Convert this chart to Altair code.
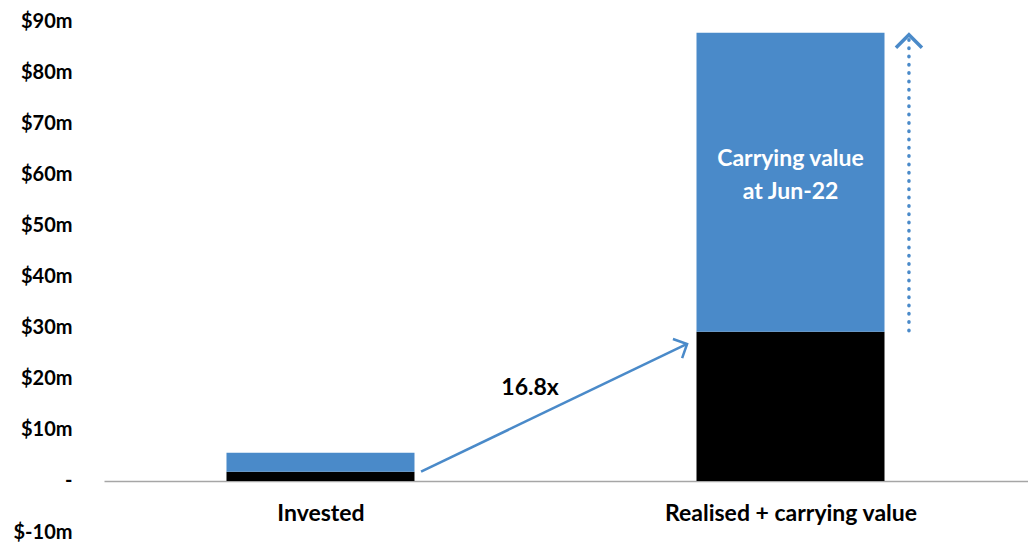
import altair as alt
import pandas as pd

# ---- data ----
categories = ["Invested", "Realised + carrying value"]
cat_pos = [0, 1]
black_top = [1.8, 29.2]      # lower (black) segment, $m
blue_top = [5.5, 87.7]       # total height incl. blue segment, $m

arrow_x = [0.214, 0.780]     # growth arrow, x in category units
arrow_y = [1.8, 26.8]        # $m
multiple_label = "16.8x"
multiple_x = [0.446]
multiple_y = [18.2]

dotted_x = [1.252, 1.252]
dotted_y = [29.4, 87.3]

note_lines = ["Carrying value", "at Jun-22"]
note_x = [1.0, 1.0]
note_y = [63.0, 56.6]

BLUE = "#4A8AC9"
FONT = "Lato"

bars = pd.DataFrame({
    "category": categories * 2,
    "pos": cat_pos * 2,
    "y0": [0.0, 0.0] + black_top,
    "y1": black_top + blue_top,
    "segment": ["realised", "realised", "carrying", "carrying"],
})
arrow_df = pd.DataFrame({"x": arrow_x, "y": arrow_y, "o": [0, 1]})
arrow_head = arrow_df.iloc[[1]]
dotted_df = pd.DataFrame({"x": dotted_x, "y": dotted_y, "o": [0, 1]})
dotted_head = dotted_df.iloc[[1]]
mult_df = pd.DataFrame({"x": multiple_x, "y": multiple_y, "t": [multiple_label]})
note_df = pd.DataFrame({"x": note_x, "y": note_y, "t": note_lines})

label_expr = " : ".join(
    [f"datum.value == {p} ? '{c}'" for p, c in zip(cat_pos, categories)] + ["''"]
)

xscale = alt.Scale(domain=[-0.4606, 1.5053], nice=False, zero=False, padding=0)
yscale = alt.Scale(domain=[-10, 90], nice=False, zero=False, padding=0)

x_axis = alt.Axis(
    values=cat_pos, labelExpr=label_expr, title=None, grid=False, ticks=False,
    domain=True, domainColor="#A6A6A6", domainWidth=1.5, offset=-51,
    labelFont=FONT, labelFontSize=23, labelFontWeight="bold", labelColor="#000000",
    labelPadding=21, labelFlush=False, labelLimit=0, labelOverlap=False,
)
y_axis = alt.Axis(
    values=list(range(-10, 100, 10)),
    labelExpr="datum.value == 0 ? '-' : '$' + datum.value + 'm'",
    title=None, grid=False, ticks=False, domain=False,
    labelFont=FONT, labelFontSize=20, labelFontWeight="bold", labelColor="#000000",
    labelPadding=32, labelOverlap=False,
)

bar_layer = alt.Chart(bars).mark_bar(size=188).encode(
    x=alt.X("pos:Q", scale=xscale, axis=x_axis),
    y=alt.Y("y0:Q", scale=yscale, axis=y_axis),
    y2="y1:Q",
    color=alt.Color("segment:N",
                    scale=alt.Scale(domain=["realised", "carrying"], range=["#000000", BLUE]),
                    legend=None),
)

arrow_line = alt.Chart(arrow_df).mark_line(color=BLUE, strokeWidth=2.5).encode(
    x=alt.X("x:Q", scale=xscale), y=alt.Y("y:Q", scale=yscale), order="o:Q"
)
arrow_tip = alt.Chart(arrow_head).mark_point(
    shape="M-1,1L0,0L1,1", filled=False, color=BLUE, strokeWidth=2.5,
    size=450, angle=64.3, opacity=1,
).encode(x=alt.X("x:Q", scale=xscale), y=alt.Y("y:Q", scale=yscale))

dotted_line = alt.Chart(dotted_df).mark_line(
    color=BLUE, strokeWidth=3.5, strokeDash=[0.5, 7.8], strokeCap="round"
).encode(x=alt.X("x:Q", scale=xscale), y=alt.Y("y:Q", scale=yscale), order="o:Q")
dotted_tip = alt.Chart(dotted_head).mark_point(
    shape="M-1,1L0,0L1,1", filled=False, color=BLUE, strokeWidth=3.5,
    size=676, angle=0, opacity=1,
).encode(x=alt.X("x:Q", scale=xscale), y=alt.Y("y:Q", scale=yscale))

mult_text = alt.Chart(mult_df).mark_text(
    font=FONT, fontSize=23, fontWeight="bold", color="#000000", align="center", baseline="middle"
).encode(x=alt.X("x:Q", scale=xscale), y=alt.Y("y:Q", scale=yscale), text="t:N")

note_text = alt.Chart(note_df).mark_text(
    font=FONT, fontSize=23, fontWeight="bold", color="#FFFFFF", align="center", baseline="middle"
).encode(x=alt.X("x:Q", scale=xscale), y=alt.Y("y:Q", scale=yscale), text="t:N")

chart = alt.layer(
    bar_layer, arrow_line, arrow_tip, dotted_line, dotted_tip, mult_text, note_text
).properties(
    width=924, height=511,
    padding={"left": 96, "top": 13, "right": 0, "bottom": 10},
    autosize=alt.AutoSizeParams(type="none"),
).configure_view(stroke=None)

chart.save("out.html", embed_options={"renderer": "svg", "actions": False})
